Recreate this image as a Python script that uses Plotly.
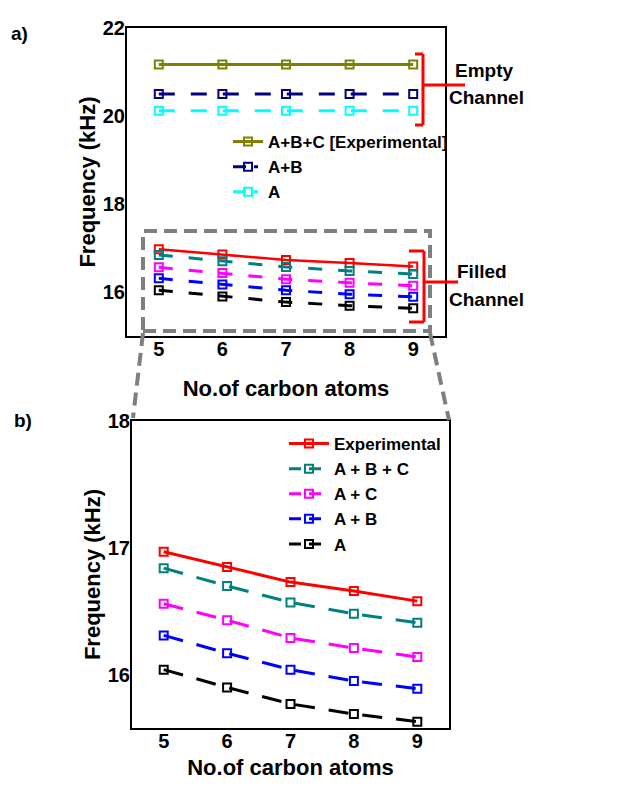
import plotly.graph_objects as go

# Page body has an 8px default margin; size the figure so the page fits the window exactly.
PAGE_W, PAGE_H = 641, 788
OFF = 8
W, H = PAGE_W - 2 * OFF, PAGE_H - 2 * OFF

carbons = [5, 6, 7, 8, 9]

# Panel a) empty channel
empty_abc_exp = [21.17, 21.17, 21.17, 21.17, 21.17]
empty_ab = [20.5, 20.5, 20.5, 20.5, 20.5]
empty_a = [20.12, 20.12, 20.12, 20.12, 20.12]

# Filled channel (panels a and b)
filled_exp = [16.97, 16.85, 16.73, 16.66, 16.58]
filled_abc = [16.84, 16.70, 16.57, 16.48, 16.41]
filled_ac = [16.56, 16.43, 16.29, 16.21, 16.14]
filled_ab = [16.31, 16.17, 16.04, 15.95, 15.89]
filled_a = [16.04, 15.90, 15.77, 15.69, 15.63]

x_ticks = [5, 6, 7, 8, 9]
y_ticks_a = [16, 18, 20, 22]
y_ticks_b = [16, 17, 18]

FONT = "Liberation Sans"


def px(x):
    return (x - OFF) / W


def py(y):
    return 1 - (y - OFF) / H


fig = go.Figure()

MS = 8


def add(y, name, color, dash, xa, ya, legend, showlegend, lw=3):
    fig.add_trace(go.Scatter(
        x=carbons, y=y, name=name, mode="lines+markers",
        line=dict(color=color, width=lw, dash=dash),
        marker=dict(symbol="square-open", size=MS, color=color, line=dict(width=2, color=color)),
        xaxis=xa, yaxis=ya, legend=legend, showlegend=showlegend,
    ))


def legend_entry(name, color, dash, xa, ya, legend, lw=3):
    fig.add_trace(go.Scatter(
        x=[None], y=[None], name=name, mode="lines+markers",
        line=dict(color=color, width=lw, dash=dash),
        marker=dict(symbol="square-open", size=MS, color=color, line=dict(width=2, color=color)),
        xaxis=xa, yaxis=ya, legend=legend, showlegend=True,
    ))


# Panel a
add(empty_abc_exp, "A+B+C [Experimental]", "#808000", "solid", "x", "y", "legend", True)
add(empty_ab, "A+B", "#000080", "16px,16px", "x", "y", "legend", False)
add(empty_a, "A", "#00FFFF", "16px,16px", "x", "y", "legend", False)
legend_entry("A+B", "#000080", "13px,8px,4px", "x", "y", "legend")
legend_entry("A", "#00FFFF", "13px,8px,4px", "x", "y", "legend")
add(filled_exp, "Experimental", "#FF0000", "solid", "x", "y", "legend", False, 2.5)
add(filled_abc, "A + B + C", "#008080", "14px,16px", "x", "y", "legend", False)
add(filled_ac, "A + C", "#FF00FF", "14px,16px", "x", "y", "legend", False)
add(filled_ab, "A + B", "#0000FF", "14px,16px", "x", "y", "legend", False)
add(filled_a, "A", "#000000", "14px,16px", "x", "y", "legend", False)

# Panel b
add(filled_exp, "Experimental", "#FF0000", "solid", "x2", "y2", "legend2", True)
add(filled_abc, "A + B + C", "#008080", "20px,14px", "x2", "y2", "legend2", False)
add(filled_ac, "A + C", "#FF00FF", "20px,14px", "x2", "y2", "legend2", False)
add(filled_ab, "A + B", "#0000FF", "20px,14px", "x2", "y2", "legend2", False)
add(filled_a, "A", "#000000", "20px,14px", "x2", "y2", "legend2", False)
legend_entry("A + B + C", "#008080", "12px,8px", "x2", "y2", "legend2")
legend_entry("A + C", "#FF00FF", "12px,8px", "x2", "y2", "legend2")
legend_entry("A + B", "#0000FF", "12px,8px", "x2", "y2", "legend2")
legend_entry("A", "#000000", "12px,8px", "x2", "y2", "legend2")

tickfont = dict(family=FONT, size=20, color="black", weight="bold")
axis_common = dict(showline=True, mirror=True, linecolor="black", linewidth=2,
                   showgrid=False, zeroline=False, ticks="", automargin=False,
                   tickfont=tickfont)
title_font = dict(family=FONT, size=22, color="black", weight="bold")

fig.update_layout(
    width=W, height=H,
    margin=dict(l=0, r=0, t=0, b=0),
    paper_bgcolor="white", plot_bgcolor="white",
    xaxis=dict(axis_common, domain=[px(127), px(445)], range=[4.5, 9.5], tickvals=x_ticks,
               anchor="y", ticklabelstandoff=-6,
               title=dict(text="No.of carbon atoms", font=title_font, standoff=22)),
    yaxis=dict(axis_common, domain=[py(336), py(28)], range=[15, 22], tickvals=y_ticks_a,
               anchor="x", ticklabelstandoff=-4,
               title=dict(text="Frequency (kHz)", font=title_font, standoff=1)),
    xaxis2=dict(axis_common, domain=[px(132), px(449)], range=[4.5, 9.5], tickvals=x_ticks,
                anchor="y2", ticklabelstandoff=-6,
                title=dict(text="No.of carbon atoms", font=title_font, standoff=22)),
    yaxis2=dict(axis_common, domain=[py(728), py(421)], range=[15.58, 18], tickvals=y_ticks_b,
                anchor="x2", ticklabelstandoff=-4,
                title=dict(text="Frequency (kHz)", font=title_font, standoff=1)),
    legend=dict(x=px(228), y=py(124), xanchor="left", yanchor="top",
                bgcolor="rgba(0,0,0,0)", font=dict(family=FONT, size=17, color="black", weight="bold"),
                tracegroupgap=0, itemwidth=30),
    legend2=dict(x=px(284), y=py(426), xanchor="left", yanchor="top",
                 bgcolor="rgba(0,0,0,0)", font=dict(family=FONT, size=17, color="black", weight="bold"),
                 tracegroupgap=0, itemwidth=40),
)

shapes = []
red = dict(color="#FF0000", width=3)
# Empty channel bracket
shapes += [
    dict(type="line", xref="paper", yref="paper", x0=px(415), x1=px(423), y0=py(54), y1=py(54), line=red),
    dict(type="line", xref="paper", yref="paper", x0=px(423), x1=px(423), y0=py(54), y1=py(125), line=red),
    dict(type="line", xref="paper", yref="paper", x0=px(415), x1=px(423), y0=py(125), y1=py(125), line=red),
    dict(type="line", xref="paper", yref="paper", x0=px(423), x1=px(465), y0=py(85), y1=py(85), line=red),
]
# Filled channel bracket
shapes += [
    dict(type="line", xref="paper", yref="paper", x0=px(409), x1=px(424), y0=py(251), y1=py(251), line=red),
    dict(type="line", xref="paper", yref="paper", x0=px(424), x1=px(424), y0=py(251), y1=py(322), line=red),
    dict(type="line", xref="paper", yref="paper", x0=px(409), x1=px(424), y0=py(322), y1=py(322), line=red),
    dict(type="line", xref="paper", yref="paper", x0=px(424), x1=px(458), y0=py(282), y1=py(282), line=red),
]
grey = dict(color="#7F7F7F", width=4, dash="13px,7px")
shapes += [
    dict(type="rect", xref="paper", yref="paper", x0=px(143), x1=px(430), y0=py(331), y1=py(231), line=grey),
    dict(type="line", xref="paper", yref="paper", x0=px(143), x1=px(133), y0=py(333), y1=py(418), line=grey),
    dict(type="line", xref="paper", yref="paper", x0=px(430), x1=px(449), y0=py(333), y1=py(420), line=grey),
]
fig.update_layout(shapes=shapes)

ann_font = dict(family=FONT, size=19, color="black", weight="bold")
anns = [
    dict(text="Empty", x=px(484), y=py(71)),
    dict(text="Channel", x=px(486), y=py(98)),
    dict(text="Filled", x=px(482), y=py(271)),
    dict(text="Channel", x=px(486), y=py(299)),
    dict(text="a)", x=px(19), y=py(33)),
    dict(text="b)", x=px(23), y=py(420)),
]
for a in anns:
    fig.add_annotation(xref="paper", yref="paper", showarrow=False, font=ann_font,
                       xanchor="center", yanchor="middle", **a)

fig.write_html("out.html")
